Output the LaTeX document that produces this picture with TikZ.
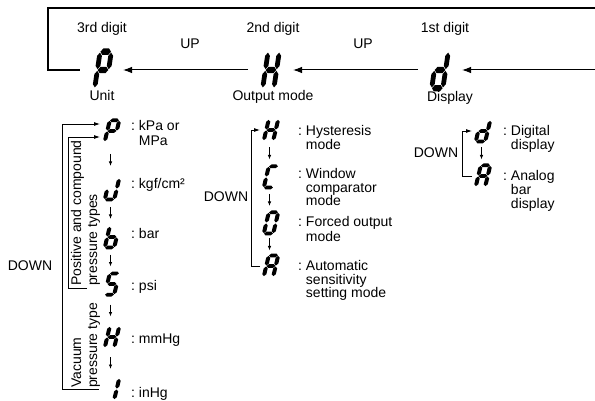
\documentclass[tikz,border=0pt]{standalone}
\usepackage{fontspec}
\setmainfont{Liberation Sans}
\usetikzlibrary{arrows.meta,calc}
% seven-segment pieces in a local box x in [-0.5,0.5], y in [-1,1] (y up)
\def\SEGa{\fill (-0.33,0.85) -- (-0.18,1.0) -- (0.18,1.0) -- (0.33,0.85) -- (0.18,0.70) -- (-0.18,0.70) -- cycle;}
\def\SEGg{\fill (-0.33,0) -- (-0.18,0.15) -- (0.18,0.15) -- (0.33,0) -- (0.18,-0.15) -- (-0.18,-0.15) -- cycle;}
\def\SEGd{\fill (-0.33,-0.85) -- (-0.18,-0.70) -- (0.18,-0.70) -- (0.33,-0.85) -- (0.18,-1.0) -- (-0.18,-1.0) -- cycle;}
\def\SEGb{\fill (0.35,0.04) -- (0.5,0.19) -- (0.5,0.66) -- (0.35,0.81) -- (0.2,0.66) -- (0.2,0.19) -- cycle;}
\def\SEGc{\fill (0.35,-0.81) -- (0.5,-0.66) -- (0.5,-0.19) -- (0.35,-0.04) -- (0.2,-0.19) -- (0.2,-0.66) -- cycle;}
\def\SEGf{\fill (-0.35,0.04) -- (-0.2,0.19) -- (-0.2,0.66) -- (-0.35,0.81) -- (-0.5,0.66) -- (-0.5,0.19) -- cycle;}
\def\SEGe{\fill (-0.35,-0.81) -- (-0.2,-0.66) -- (-0.2,-0.19) -- (-0.35,-0.04) -- (-0.5,-0.19) -- (-0.5,-0.66) -- cycle;}
\newcommand\bigglyph[4]{%
  \node[glyphbox,minimum width=22pt,minimum height=43pt] (#1) at (#2,#3) {};
  \begin{scope}[shift={(#2,#3)},xscale=16,yscale=-21.5,xslant=-0.2]
    \foreach \s in {#4}{\csname SEG\s\endcsname}
  \end{scope}}
\newcommand\smallglyph[4]{%
  \node[glyphbox,minimum width=18pt,minimum height=25pt] (#1) at (#2,#3) {};
  \begin{scope}[shift={(#2,#3)},xscale=13.5,yscale=-12.5,xslant=-0.22]
    \foreach \s in {#4}{\csname SEG\s\endcsname}
  \end{scope}}
\newcommand\varrow[2]{\draw[varr] ($(#1.south)!0.5!(#2.north)+(-1.5,-6)$) -- ++(0,12);}
\begin{document}
\begin{tikzpicture}[x=1pt,y=-1pt,
  lbl/.style={font=\fontsize{14}{16}\selectfont, inner sep=0pt, anchor=base},
  lblw/.style={lbl, anchor=base west},
  glyphbox/.style={inner sep=0pt, outer sep=0pt},
  mainarrow/.style={line width=1pt, -{Latex[length=9pt,width=6.5pt]}},
  frame/.style={line width=1.4pt},
  brkarrow/.style={line width=0.8pt, -{Latex[length=6pt,width=4pt]}},
  varr/.style={line width=0.8pt, -{Latex[length=4.5pt,width=3.5pt]}}]
\useasboundingbox (0,0) rectangle (595,401);
\clip (0,0) rectangle (595,401);
\fill[white] (0,0) rectangle (595,401);

% ---------- top row ----------
\bigglyph{gP}{103}{70}{a,b,f,g,e}
\bigglyph{gH}{271}{70}{b,c,e,f,g}
\bigglyph{gd}{440}{70}{b,c,d,e,g}

\coordinate (ftl) at (48,8);
\coordinate (ftr) at (600,8);
\coordinate (rin) at (600,70);
\draw[frame] (ftr) -- (ftl) |- ([xshift=-12pt]gP.west);
\draw[mainarrow] ([xshift=-12pt]gH.west) -- ([xshift=9pt]gP.east);
\draw[mainarrow] ([xshift=-11pt]gd.west) -- ([xshift=11pt]gH.east);
\draw[mainarrow] (rin) -- ([xshift=11pt]gd.east);

\node[lbl] (l3) at (102,33) {3rd digit};
\node[lbl] (l2) at (273,33) {2nd digit};
\node[lbl] (l1) at (445,33) {1st digit};
\node[lbl] (up1) at (190,49) {UP};
\node[lbl] (up2) at (363,49) {UP};
\node[lbl] (lu) at (102,101) {Unit};
\node[lbl] (lo) at (273,101) {Output mode};
\node[lbl] (ld) at (450,102) {Display};

% ---------- unit column ----------
\smallglyph{sP}{112}{131}{a,b,f,g,e}
\smallglyph{sU}{112}{189}{b,c,d,e}
\smallglyph{sb}{112}{237}{c,d,e,f,g}
\smallglyph{sS}{112}{284}{a,f,g,c,d}
\smallglyph{sH}{112}{337}{b,c,e,f,g}
\smallglyph{s1}{112}{389}{b,c}
\varrow{sP}{sU}
\varrow{sU}{sb}
\varrow{sb}{sS}
\varrow{sS}{sH}
\varrow{sH}{s1}

\node[lblw] (tP1) at (131,131) {:\ kPa or};
\node[lblw] (tP2) at (131,146) {\phantom{:\ }MPa};
\node[lblw] (tU) at (131,189) {:\ kgf/cm²};
\node[lblw] (tb) at (131,239) {:\ bar};
\node[lblw] (tS) at (131,290) {:\ psi};
\node[lblw] (tH) at (131,343) {:\ mmHg};
\node[lblw] (t1) at (131,397) {:\ inHg};

\coordinate (oT) at (62,124);
\coordinate (iT) at (68,137);
\coordinate (iB) at (87,288);
\draw[brkarrow, shorten >=3pt] ([xshift=-4pt]s1.west) -| (oT) -- (oT -| sP.west);
\draw[brkarrow, shorten >=3pt] (iB) -| (iT) -- (iT -| sP.west);
\node[lbl] (dL) at (30,270) {DOWN};
\node[lblw, rotate=90] (vp1) at (81,286) {Positive and compound};
\node[lblw, rotate=90] (vp2) at (97,286) {pressure types};
\node[lblw, rotate=90] (vv1) at (81,388) {Vacuum};
\node[lblw, rotate=90] (vv2) at (97,388) {pressure type};

% ---------- output mode column ----------
\smallglyph{mH}{271}{130}{b,c,e,f,g}
\smallglyph{mC}{271}{177}{a,d,e,f}
\smallglyph{mO}{271}{223}{a,b,c,d,e,f}
\smallglyph{mA}{271}{266}{a,b,c,e,f,g}
\varrow{mH}{mC}
\varrow{mC}{mO}
\varrow{mO}{mA}
\coordinate (mT) at (251,130);
\draw[brkarrow, shorten >=2pt] ([xshift=-2pt]mA.west) -| (mT) -- (mH.west);
\node[lbl] (dM) at (226,202) {DOWN};
\node[lblw] (h1) at (298,136) {:\ Hysteresis};
\node[lblw] (h2) at (298,150) {\phantom{:\ }mode};
\node[lblw] (w1) at (298,179) {:\ Window};
\node[lblw] (w2) at (298,193) {\phantom{:\ }comparator};
\node[lblw] (w3) at (298,206) {\phantom{:\ }mode};
\node[lblw] (f1) at (298,227) {:\ Forced output};
\node[lblw] (f2) at (298,241) {\phantom{:\ }mode};
\node[lblw] (a1) at (298,270) {:\ Automatic};
\node[lblw] (a2) at (298,284) {\phantom{:\ }sensitivity};
\node[lblw] (a3) at (298,298) {\phantom{:\ }setting mode};

% ---------- display column ----------
\smallglyph{rd}{483}{131}{b,c,d,e,g}
\smallglyph{rA}{483}{176}{a,b,c,e,f,g}
\varrow{rd}{rA}
\coordinate (rT) at (462,131);
\draw[brkarrow, shorten >=2pt] ([xshift=-2pt]rA.west) -| (rT) -- (rd.west);
\node[lbl] (dR) at (436,158) {DOWN};
\node[lblw] (g1) at (503,136) {:\ Digital};
\node[lblw] (g2) at (503,150) {\phantom{:\ }display};
\node[lblw] (n1) at (503,181) {:\ Analog};
\node[lblw] (n2) at (503,195) {\phantom{:\ }bar};
\node[lblw] (n3) at (503,209) {\phantom{:\ }display};
\end{tikzpicture}
\end{document}
